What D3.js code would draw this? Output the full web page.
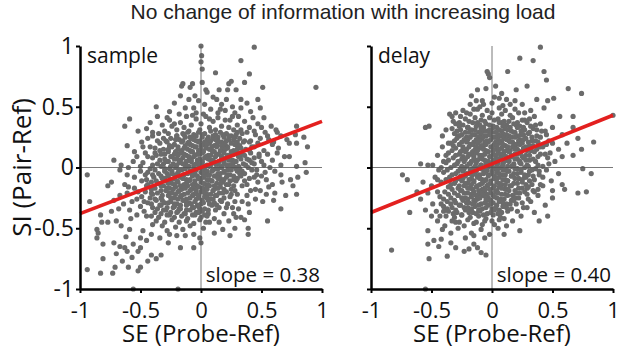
<!DOCTYPE html>
<html>
<head>
<meta charset="utf-8">
<script src="https://cdn.jsdelivr.net/npm/d3@7"></script>
<style>
  body { margin: 0; background: #fff; }
  text { font-family: "Open Sans", sans-serif; }
</style>
</head>
<body>
<svg id="chart" width="617" height="348"></svg>
<script>
// ---- data ----
const panelNames = ["sample", "delay"];
const slopeLabels = ["slope = 0.38", "slope = 0.40"];
const slopes = [0.38, 0.40];
const intercepts = [0.0, 0.03];
const tickValues = [-1, -0.5, 0, 0.5, 1];
const tickLabels = ["-1", "-0.5", "0", "0.5", "1"];
const titleText = "No change of information with increasing load";
const xLabel = "SE (Probe-Ref)";
const yLabel = "SI (Pair-Ref)";

// [SE, SI] pairs (outer points, then the dense core)
const samplePoints = [
  [0,1.0],[0.44,0.99],[0.005,0.92],[0,0.87],[0.01,0.81],[0.33,0.88],[0.12,0.78],[0.40,0.77],
  [-0.09,0.66],[-0.16,0.67],[0.04,0.64],[0.15,0.64],[0.22,0.64],[0.25,0.71],[0.23,0.69],[0.29,0.64],[0.36,0.70],[0.51,0.66],[0.95,0.66],[-0.17,0.59],[-0.05,0.59],[-0.15,0.69],[-0.07,0.69],[0.01,0.70],[0.05,0.62],
  [-0.37,0.50],[-0.06,0.49],[-0.13,0.49],[0.13,0.56],[0.21,0.56],[0.33,0.56],[0.47,0.56],[0.49,0.49],[0.33,0.49],[0.26,0.50],[0.17,0.52],[0.08,0.48],[-0.22,0.53],[-0.02,0.55],[0.03,0.52],[0.10,0.58],[0.38,0.53],[-0.10,0.56],[0.20,0.47],[0.41,0.46],[-0.26,0.46],[-0.04,0.45],[0.14,0.45],[0.28,0.45],
  [-0.59,0.40],[-0.63,0.34],[-0.45,0.32],[-0.42,0.37],[-0.28,0.41],[-0.26,0.39],[-0.24,0.34],[-0.17,0.37],[-0.12,0.42],[0.52,0.41],[0.43,0.41],[0.36,0.38],[0.58,0.34],[0.79,0.34],[0.23,0.33],[-0.20,0.31],[-0.08,0.35],[-0.04,0.40],[0.00,0.36],[0.04,0.42],[0.07,0.33],[0.10,0.38],[0.14,0.41],[0.17,0.34],[0.20,0.39],[0.26,0.42],[0.30,0.35],[0.33,0.31],[0.40,0.33],[0.47,0.36],[-0.14,0.33],[-0.32,0.35],[-0.01,0.31],[0.12,0.31],[0.27,0.31],[-0.10,0.30],[0.02,0.44],[0.62,0.31],
  [-0.52,0.30],[-0.49,0.21],[-0.35,0.28],[-0.31,0.24],[-0.15,0.28],[-0.20,0.26],[-0.61,0.18],[-0.48,0.17],[-0.42,0.17],[0.63,0.29],[0.66,0.26],[0.73,0.20],[0.79,0.20],[0.88,0.17],[0.44,0.17],[0.40,0.21],[0.29,0.27],[0.78,0.27],[0.71,0.23],[0.85,0.25],
  [-0.30,0.30],[-0.36,0.22],[-0.40,0.26],[-0.44,0.24],[-0.55,0.13],[-0.50,0.01],[-0.46,-0.06],[-0.52,-0.20],[-0.47,-0.28],[-0.58,-0.42],[-0.62,-0.57],[0.44,0.30],[0.50,0.33],[0.55,0.26],[0.60,0.21],[0.64,0.16],[0.54,-0.10],[0.49,-0.19],[0.45,-0.26],[0.38,-0.23],[0.31,-0.34],[0.27,-0.38],[0.19,-0.38],[0.16,0.48],[0.24,0.39],[0.31,0.42],[0.07,0.40],[-0.07,0.43],[-0.18,0.44],[-0.22,0.36],[-0.36,0.42],[-0.40,0.29],
  [-0.72,0.06],[-0.56,0.05],[-0.53,0.09],[-0.44,0.09],[-0.38,0.12],[0.69,0.09],[0.63,0.12],[0.59,0.06],[0.48,0.09],[0.52,0.02],[0.66,0.02],[0.73,0.09],[0.79,0.01],[0.86,0.04],[-0.66,0.02],
  [-0.94,-0.06],[-0.74,-0.12],[-0.77,-0.15],[-0.67,-0.02],[-0.61,-0.06],[-0.63,-0.14],[-0.55,-0.17],[-0.49,-0.11],[-0.45,-0.15],[-0.50,-0.03],[-0.39,-0.08],[0.87,-0.04],[0.80,-0.08],[0.74,-0.10],[0.66,-0.06],[0.67,-0.12],[0.76,-0.15],[0.56,-0.16],[0.59,-0.14],[0.50,-0.07],[0.44,-0.08],[0.61,-0.03],
  [-0.92,-0.28],[-0.61,-0.21],[-0.67,-0.23],[-0.41,-0.21],[-0.33,-0.25],[0.79,-0.22],[0.70,-0.23],[0.61,-0.21],[0.54,-0.22],[0.51,-0.28],[0.45,-0.18],[0.41,-0.19],[0.39,-0.30],[0.34,-0.28],[0.28,-0.28],[-0.72,-0.27],[-0.53,-0.26],[0.60,-0.27],
  [-0.83,-0.39],[-0.74,-0.36],[-0.68,-0.34],[-0.64,-0.30],[-0.59,-0.35],[-0.53,-0.39],[-0.45,-0.40],[-0.82,-0.45],[-0.77,-0.45],[-0.70,-0.44],[0.66,-0.34],[0.40,-0.37],[0.26,-0.33],[0.21,-0.33],[0.36,-0.43],[0.33,-0.41],[0.29,-0.41],[0.23,-0.44],[0.15,-0.45],[0.07,-0.45],[0.55,-0.44],
  [-0.86,-0.51],[-0.85,-0.54],[-0.86,-0.58],[-0.59,-0.51],[-0.48,-0.52],[-0.41,-0.55],[-0.26,-0.55],[-0.20,-0.56],[-0.13,-0.56],[-0.06,-0.55],[-0.50,-0.58],[-0.45,-0.60],[-0.34,-0.58],[-0.01,-0.58],[0.28,-0.50],[0.39,-0.50],[0.18,-0.51],[0.11,-0.54],[0.24,-0.56],[0.39,-0.55],[-0.32,-0.48],[-0.21,-0.49],[-0.09,-0.48],[0.02,-0.50],[-0.40,-0.47],[-0.15,-0.51],[-0.28,-0.52],[-0.66,-0.48],
  [-0.81,-0.63],[-0.72,-0.62],[-0.67,-0.65],[-0.63,-0.66],[-0.56,-0.63],[-0.50,-0.66],[-0.27,-0.62],[-0.17,-0.66],[-0.06,-0.66],[-0.70,-0.71],[-0.61,-0.69],[-0.52,-0.69],[-0.41,-0.72],[-0.33,-0.72],[-0.37,-0.75],[-0.57,-0.74],[0.00,-0.62],
  [-0.81,-0.75],[-0.65,-0.77],[-0.44,-0.77],[-0.71,-0.82],[-0.60,-0.82],[-0.50,-0.82],[-0.52,-0.85],[-0.94,-0.84],[-0.83,-0.87],[-0.73,-0.87],[-0.56,-1.0],[-0.19,-1.0],
  // core
  [-0.27,0.28],[-0.11,0.29],[-0.06,0.27],[-0.02,0.29],[0.03,0.28],[0.08,0.30],[0.12,0.27],[0.16,0.29],[0.21,0.28],[0.25,0.26],[0.34,0.28],[0.38,0.29],[0.45,0.27],[0.53,0.29],
  [-0.20,0.26],[-0.14,0.27],[-0.09,0.25],[-0.04,0.26],[0.01,0.27],[0.06,0.25],[0.10,0.26],[0.14,0.25],[0.18,0.27],[0.23,0.26],[0.28,0.25],[0.30,0.29],
  [-0.25,0.24],[-0.18,0.23],[-0.13,0.25],[-0.08,0.24],[-0.04,0.22],[0.01,0.25],[0.05,0.23],[0.10,0.24],[0.14,0.22],[0.19,0.25],[0.23,0.23],[0.32,0.24],[0.36,0.22],[0.49,0.24],[0.56,0.23],
  [-0.29,0.22],[-0.21,0.23],[-0.15,0.22],[-0.10,0.21],[-0.06,0.23],[-0.01,0.22],[0.03,0.21],[0.08,0.22],[0.12,0.23],[0.17,0.21],[0.21,0.22],[0.27,0.23],[0.30,0.21],[0.41,0.22],
  [-0.34,0.20],[-0.28,0.21],[-0.22,0.19],[-0.16,0.21],[-0.11,0.20],[-0.07,0.18],[-0.02,0.21],[0.02,0.19],[0.07,0.20],[0.11,0.18],[0.15,0.21],[0.20,0.19],[0.25,0.20],[0.30,0.18],[0.35,0.21],[0.47,0.20],[0.59,0.19],
  [-0.26,0.18],[-0.19,0.17],[-0.13,0.18],[-0.09,0.19],[-0.04,0.17],[0.00,0.18],[0.05,0.19],[0.09,0.17],[0.13,0.19],[0.17,0.18],[0.22,0.17],[0.28,0.19],[0.32,0.18],[0.42,0.17],
  [-0.38,0.16],[-0.31,0.15],[-0.24,0.17],[-0.19,0.15],[-0.14,0.16],[-0.09,0.14],[-0.05,0.17],[0.00,0.15],[0.04,0.16],[0.09,0.14],[0.13,0.17],[0.18,0.15],[0.22,0.16],[0.27,0.14],[0.33,0.16],[0.37,0.15],[0.52,0.14],
  [-0.34,0.14],[-0.27,0.15],[-0.21,0.13],[-0.16,0.14],[-0.11,0.15],[-0.07,0.13],[-0.02,0.14],[0.02,0.13],[0.07,0.15],[0.11,0.13],[0.16,0.14],[0.20,0.15],[0.25,0.13],[0.30,0.15],[0.40,0.14],
  [-0.46,0.12],[-0.33,0.11],[-0.27,0.13],[-0.22,0.11],[-0.17,0.12],[-0.12,0.10],[-0.08,0.13],[-0.03,0.11],[0.01,0.12],[0.06,0.10],[0.10,0.13],[0.15,0.11],[0.19,0.12],[0.24,0.10],[0.29,0.13],[0.34,0.11],[0.41,0.12],[0.55,0.11],
  [-0.37,0.10],[-0.30,0.11],[-0.24,0.09],[-0.19,0.10],[-0.14,0.11],[-0.10,0.09],[-0.05,0.10],[-0.01,0.11],[0.04,0.09],[0.08,0.10],[0.13,0.11],[0.17,0.09],[0.22,0.10],[0.27,0.11],[0.32,0.09],[0.36,0.10],[0.48,0.11],
  [-0.40,0.08],[-0.30,0.07],[-0.25,0.09],[-0.20,0.07],[-0.15,0.08],[-0.10,0.06],[-0.06,0.09],[-0.01,0.07],[0.03,0.08],[0.08,0.06],[0.12,0.09],[0.17,0.07],[0.21,0.08],[0.26,0.06],[0.31,0.09],[0.38,0.07],[0.44,0.08],
  [-0.34,0.06],[-0.27,0.05],[-0.22,0.07],[-0.17,0.06],[-0.12,0.05],[-0.08,0.07],[-0.03,0.06],[0.01,0.05],[0.06,0.07],[0.10,0.06],[0.15,0.05],[0.19,0.07],[0.23,0.06],[0.29,0.05],[0.33,0.07],[0.40,0.06],
  [-0.48,0.04],[-0.36,0.03],[-0.29,0.05],[-0.23,0.03],[-0.18,0.04],[-0.13,0.02],[-0.08,0.05],[-0.04,0.03],[0.01,0.04],[0.05,0.02],[0.10,0.05],[0.14,0.03],[0.19,0.04],[0.24,0.02],[0.28,0.05],[0.35,0.03],[0.42,0.04],[0.50,0.05],
  [-0.40,0.02],[-0.31,0.03],[-0.25,0.01],[-0.20,0.02],[-0.15,0.03],[-0.10,0.01],[-0.06,0.02],[-0.01,0.03],[0.03,0.01],[0.08,0.02],[0.12,0.03],[0.17,0.01],[0.21,0.02],[0.26,0.03],[0.31,0.01],[0.37,0.02],[0.44,0.03],
  [-0.60,0.00],[-0.42,-0.01],[-0.33,0.01],[-0.26,-0.01],[-0.21,0.00],[-0.16,-0.02],[-0.11,0.01],[-0.06,-0.01],[-0.02,0.00],[0.03,-0.02],[0.07,0.01],[0.12,-0.01],[0.17,0.00],[0.22,-0.02],[0.27,0.01],[0.32,-0.01],[0.39,0.00],[0.46,-0.02],[0.57,0.00],
  [-0.38,-0.02],[-0.30,-0.01],[-0.24,-0.03],[-0.18,-0.02],[-0.13,-0.01],[-0.09,-0.03],[-0.04,-0.02],[0.01,-0.01],[0.05,-0.03],[0.10,-0.02],[0.14,-0.01],[0.19,-0.03],[0.25,-0.02],[0.29,-0.01],[0.34,-0.03],[0.42,-0.02],
  [-0.44,-0.04],[-0.35,-0.05],[-0.30,-0.03],[-0.24,-0.05],[-0.19,-0.04],[-0.14,-0.06],[-0.09,-0.03],[-0.05,-0.05],[0.00,-0.04],[0.05,-0.06],[0.09,-0.03],[0.14,-0.05],[0.19,-0.04],[0.24,-0.06],[0.30,-0.03],[0.36,-0.05],[0.53,-0.04],
  [-0.40,-0.06],[-0.33,-0.07],[-0.28,-0.05],[-0.21,-0.06],[-0.16,-0.07],[-0.11,-0.05],[-0.07,-0.06],[-0.03,-0.07],[0.02,-0.05],[0.07,-0.06],[0.12,-0.07],[0.16,-0.05],[0.22,-0.06],[0.27,-0.07],[0.32,-0.05],[0.46,-0.06],
  [-0.55,-0.08],[-0.32,-0.09],[-0.27,-0.07],[-0.22,-0.09],[-0.17,-0.08],[-0.12,-0.10],[-0.07,-0.07],[-0.02,-0.09],[0.02,-0.08],[0.07,-0.10],[0.11,-0.07],[0.16,-0.09],[0.21,-0.08],[0.27,-0.10],[0.33,-0.07],[0.40,-0.09],
  [-0.45,-0.10],[-0.37,-0.11],[-0.30,-0.09],[-0.25,-0.10],[-0.20,-0.11],[-0.15,-0.09],[-0.09,-0.10],[-0.05,-0.11],[0.00,-0.09],[0.05,-0.10],[0.09,-0.11],[0.14,-0.09],[0.19,-0.10],[0.24,-0.11],[0.30,-0.09],[0.36,-0.11],
  [-0.41,-0.12],[-0.35,-0.13],[-0.29,-0.11],[-0.24,-0.13],[-0.19,-0.12],[-0.14,-0.14],[-0.10,-0.11],[-0.05,-0.13],[0.00,-0.12],[0.04,-0.14],[0.09,-0.11],[0.13,-0.13],[0.18,-0.12],[0.23,-0.14],[0.29,-0.11],[0.47,-0.12],
  [-0.44,-0.14],[-0.33,-0.15],[-0.27,-0.13],[-0.22,-0.14],[-0.17,-0.15],[-0.12,-0.13],[-0.07,-0.14],[-0.03,-0.15],[0.02,-0.13],[0.06,-0.14],[0.11,-0.15],[0.16,-0.13],[0.21,-0.14],[0.27,-0.15],[0.38,-0.14],
  [-0.60,-0.16],[-0.38,-0.17],[-0.31,-0.15],[-0.26,-0.17],[-0.21,-0.16],[-0.16,-0.18],[-0.11,-0.15],[-0.06,-0.17],[-0.02,-0.16],[0.03,-0.18],[0.07,-0.15],[0.12,-0.17],[0.16,-0.16],[0.25,-0.18],[0.34,-0.15],
  [-0.41,-0.18],[-0.33,-0.19],[-0.28,-0.17],[-0.23,-0.18],[-0.18,-0.19],[-0.13,-0.17],[-0.08,-0.18],[-0.04,-0.19],[0.01,-0.17],[0.05,-0.18],[0.10,-0.19],[0.14,-0.17],[0.19,-0.18],[0.28,-0.19],
  [-0.46,-0.20],[-0.36,-0.21],[-0.29,-0.19],[-0.24,-0.21],[-0.19,-0.20],[-0.14,-0.22],[-0.09,-0.19],[-0.04,-0.21],[0.00,-0.20],[0.05,-0.22],[0.10,-0.19],[0.15,-0.21],[0.21,-0.20],[0.30,-0.22],
  [-0.40,-0.22],[-0.32,-0.23],[-0.26,-0.21],[-0.21,-0.22],[-0.16,-0.23],[-0.11,-0.21],[-0.06,-0.22],[-0.02,-0.23],[0.03,-0.21],[0.08,-0.22],[0.12,-0.23],[0.18,-0.21],[0.25,-0.22],
  [-0.49,-0.24],[-0.42,-0.25],[-0.27,-0.23],[-0.22,-0.25],[-0.17,-0.24],[-0.12,-0.26],[-0.07,-0.23],[-0.02,-0.25],[0.03,-0.24],[0.08,-0.26],[0.13,-0.23],[0.19,-0.25],[0.24,-0.24],
  [-0.38,-0.26],[-0.32,-0.27],[-0.25,-0.25],[-0.19,-0.26],[-0.14,-0.27],[-0.09,-0.25],[-0.04,-0.26],[0.01,-0.27],[0.05,-0.25],[0.10,-0.26],[0.16,-0.27],
  [-0.57,-0.28],[-0.44,-0.29],[-0.37,-0.27],[-0.30,-0.29],[-0.25,-0.28],[-0.20,-0.30],[-0.15,-0.27],[-0.10,-0.29],[-0.05,-0.28],[0.00,-0.30],[0.06,-0.27],[0.11,-0.29],[0.17,-0.28],[0.22,-0.30],
  [-0.41,-0.30],[-0.33,-0.31],[-0.27,-0.29],[-0.22,-0.30],[-0.17,-0.31],[-0.12,-0.29],[-0.08,-0.30],[-0.03,-0.31],[0.02,-0.29],[0.07,-0.30],[0.13,-0.31],
  [-0.50,-0.32],[-0.40,-0.33],[-0.34,-0.31],[-0.28,-0.33],[-0.22,-0.32],[-0.17,-0.34],[-0.12,-0.31],[-0.07,-0.33],[-0.02,-0.32],[0.03,-0.34],[0.09,-0.31],[0.15,-0.33],
  [-0.36,-0.34],[-0.29,-0.35],[-0.23,-0.33],[-0.18,-0.34],[-0.12,-0.35],[-0.06,-0.33],[-0.01,-0.34],[0.06,-0.35],
  [-0.47,-0.36],[-0.38,-0.37],[-0.31,-0.35],[-0.25,-0.37],[-0.19,-0.36],[-0.14,-0.38],[-0.09,-0.35],[-0.04,-0.37],[0.01,-0.36],[0.06,-0.38],[0.12,-0.35],
  [-0.33,-0.38],[-0.26,-0.39],[-0.20,-0.37],[-0.13,-0.38],[-0.07,-0.39],[-0.02,-0.37],[0.03,-0.39],
  [-0.41,-0.40],[-0.35,-0.41],[-0.28,-0.39],[-0.22,-0.41],[-0.16,-0.40],[-0.11,-0.42],[-0.05,-0.39],[0.00,-0.41],[0.05,-0.40],[0.11,-0.42],
  [-0.37,-0.44],[-0.30,-0.45],[-0.24,-0.43],[-0.18,-0.45],[-0.12,-0.44],[-0.06,-0.46],[-0.01,-0.43],[0.04,-0.45]
];

// [SE, SI] pairs (outer points, then the dense core)
const delayPoints = [
  [0.40,0.99],[0.23,0.90],[0.34,0.88],[0.13,0.79],[0.43,0.79],[0.45,0.72],[0.63,0.65],[0.74,0.61],[0.51,0.57],[0.46,0.55],[0.37,0.56],[0.29,0.67],[0.20,0.64],[0.08,0.61],[0.03,0.67],[-0.04,0.79],[-0.02,0.74],[-0.05,0.65],[-0.03,0.77],[0.43,0.49],[0.56,0.42],[0.67,0.42],[0.67,0.33],[0.58,0.27],[0.71,0.24],[0.84,0.21],[0.74,0.15],[0.67,0.10],[0.58,0.09],[0.50,0.20],[1.0,0.43],[-0.55,0.33],[-0.52,0.34],[-0.59,0.03],[-0.53,0.02],[-0.49,0.02],[-0.41,0.17],[-0.35,0.44],[-0.33,0.42],[-0.27,0.37],[-0.38,0.31],[-0.41,0.26],[-0.28,0.26],[-0.17,0.59],[-0.12,0.64],[-0.08,0.55],[-0.15,0.48],[-0.21,0.45],[-0.20,0.33],[0.12,0.56],[0.25,0.52],[0.32,0.47],[0.06,0.57],[-0.10,0.50],[0.50,0.33],[0.45,0.27],[0.55,0.15],[0.62,0.20],[0.52,0.05],[0.48,0.12],[-0.45,0.10],[-0.40,0.05],[-0.44,-0.02],[-0.36,0.20],[-0.32,0.38],
  [-0.74,-0.06],[-0.70,-0.10],[-0.57,-0.12],[-0.83,-0.68],[-0.68,-0.37],[-0.59,-0.26],[-0.53,-0.21],[-0.49,-0.30],[-0.55,-0.35],[-0.46,-0.36],[-0.45,-0.44],[-0.41,-0.51],[-0.53,-0.52],[-0.48,-0.60],[-0.53,-0.63],[-0.44,-0.65],[-0.42,-0.59],[-0.34,-0.54],[-0.34,-0.62],[-0.30,-0.66],[-0.37,-0.73],[-0.52,-0.75],[-0.23,-0.69],[-0.19,-0.67],[-0.15,-0.63],[-0.12,-0.66],[-0.05,-0.72],[-0.09,-0.70],[-0.15,-0.56],[-0.17,-0.54],[-0.09,-0.51],[-0.06,-0.58],[0.05,-0.50],[0.02,-0.47],[0.12,-0.48],[0.06,-0.43],[0.23,-0.52],[0.24,-0.40],[0.13,-0.36],[0.21,-0.36],[0.29,-0.33],[0.39,-0.44],[0.46,-0.40],[0.35,-0.37],[0.32,-0.28],[0.29,-0.22],[0.38,-0.23],[0.50,-0.25],[0.50,-0.19],[0.60,-0.18],[0.58,-0.14],[0.71,-0.21],[0.78,-0.20],[0.82,-0.05],[0.49,-0.11],[0.39,-0.06],[0.29,-0.17],[0.27,-0.08],[0.75,-0.01],[-0.55,-1.0],[-0.50,-0.40],[-0.39,-0.48],[-0.28,-0.50],[-0.22,-0.58],[-0.02,-0.55],[0.10,-0.55],[0.17,-0.44],[0.44,-0.31],[0.42,-0.15],[0.55,-0.05],[-0.50,-0.15],[-0.47,-0.08],[-0.62,-0.20],
  [-0.26,0.42],[-0.30,0.45],[-0.24,0.47],[-0.18,0.52],[-0.13,0.55],[0.02,0.58],[0.19,0.55],[0.27,0.45],[0.35,0.42],[0.40,0.36],[0.44,0.30],[0.47,0.22],[0.46,0.08],[0.45,-0.02],[0.42,-0.08],[0.40,-0.14],[0.35,-0.20],[0.30,-0.26],[0.26,-0.33],[0.20,-0.30],[-0.45,-0.20],[-0.42,-0.30],[-0.40,-0.36],[-0.43,-0.40],[-0.30,-0.45],[-0.23,-0.48],[-0.15,-0.46],[-0.08,-0.47],[0.00,-0.44],[0.10,-0.42],[-0.38,0.10],[-0.42,0.00],[-0.45,-0.10],
  // core
  [-0.07,0.52],[0.00,0.53],[0.09,0.51],[0.15,0.52],
  [-0.12,0.48],[-0.04,0.47],[0.06,0.49],[0.11,0.47],[0.19,0.48],
  [-0.18,0.44],[-0.08,0.43],[0.00,0.45],[0.08,0.44],[0.15,0.43],[0.22,0.45],
  [-0.22,0.40],[-0.14,0.41],[-0.09,0.39],[-0.02,0.41],[0.05,0.40],[0.10,0.38],[0.17,0.41],[0.25,0.39],[0.31,0.40],
  [-0.19,0.38],[-0.12,0.37],[-0.06,0.38],[0.02,0.39],[0.08,0.37],[0.14,0.38],[0.21,0.37],[0.27,0.39],
  [-0.30,0.36],[-0.24,0.35],[-0.16,0.37],[-0.10,0.35],[-0.05,0.36],[0.01,0.34],[0.06,0.37],[0.12,0.35],[0.18,0.36],[0.23,0.34],[0.29,0.37],[0.36,0.35],
  [-0.27,0.34],[-0.20,0.33],[-0.13,0.34],[-0.07,0.33],[-0.02,0.35],[0.04,0.33],[0.09,0.34],[0.15,0.33],[0.20,0.35],[0.26,0.33],[0.32,0.34],
  [-0.33,0.32],[-0.26,0.31],[-0.20,0.33],[-0.14,0.31],[-0.09,0.32],[-0.04,0.30],[0.01,0.33],[0.06,0.31],[0.11,0.32],[0.16,0.30],[0.21,0.33],[0.27,0.31],[0.34,0.32],[0.41,0.30],
  [-0.29,0.30],[-0.22,0.29],[-0.17,0.31],[-0.11,0.29],[-0.07,0.30],[-0.02,0.31],[0.03,0.29],[0.08,0.30],[0.13,0.31],[0.18,0.29],[0.24,0.30],[0.31,0.29],[0.37,0.31],
  [-0.31,0.28],[-0.25,0.27],[-0.19,0.29],[-0.14,0.27],[-0.09,0.28],[-0.05,0.26],[0.00,0.29],[0.05,0.27],[0.09,0.28],[0.14,0.26],[0.19,0.29],[0.24,0.27],[0.30,0.28],[0.37,0.26],
  [-0.27,0.26],[-0.21,0.25],[-0.16,0.27],[-0.11,0.25],[-0.06,0.26],[-0.02,0.27],[0.03,0.25],[0.07,0.26],[0.12,0.27],[0.16,0.25],[0.21,0.26],[0.26,0.27],[0.33,0.25],
  [-0.29,0.24],[-0.23,0.23],[-0.18,0.25],[-0.13,0.23],[-0.08,0.24],[-0.04,0.22],[0.01,0.25],[0.05,0.23],[0.10,0.24],[0.14,0.22],[0.19,0.25],[0.23,0.23],[0.28,0.24],[0.33,0.22],[0.40,0.25],
  [-0.31,0.22],[-0.25,0.21],[-0.20,0.23],[-0.15,0.21],[-0.10,0.22],[-0.06,0.21],[-0.01,0.23],[0.03,0.21],[0.08,0.22],[0.12,0.23],[0.17,0.21],[0.22,0.22],[0.26,0.23],[0.30,0.21],[0.36,0.22],
  [-0.34,0.20],[-0.27,0.19],[-0.21,0.21],[-0.16,0.19],[-0.12,0.20],[-0.07,0.18],[-0.03,0.21],[0.02,0.19],[0.06,0.20],[0.11,0.18],[0.15,0.21],[0.20,0.19],[0.25,0.20],[0.31,0.18],[0.38,0.21],[0.45,0.19],
  [-0.32,0.18],[-0.24,0.17],[-0.18,0.19],[-0.13,0.17],[-0.09,0.18],[-0.05,0.19],[0.00,0.17],[0.04,0.18],[0.09,0.19],[0.13,0.17],[0.18,0.18],[0.23,0.19],[0.28,0.17],[0.34,0.18],[0.42,0.17],
  [-0.30,0.16],[-0.24,0.15],[-0.19,0.17],[-0.14,0.15],[-0.10,0.16],[-0.05,0.14],[-0.01,0.17],[0.03,0.15],[0.08,0.16],[0.12,0.14],[0.17,0.17],[0.21,0.15],[0.26,0.16],[0.32,0.14],[0.40,0.17],
  [-0.33,0.14],[-0.26,0.13],[-0.21,0.15],[-0.16,0.13],[-0.12,0.14],[-0.07,0.15],[-0.03,0.13],[0.01,0.14],[0.06,0.15],[0.10,0.13],[0.15,0.14],[0.19,0.15],[0.24,0.13],[0.29,0.14],[0.37,0.15],
  [-0.36,0.12],[-0.27,0.11],[-0.22,0.13],[-0.17,0.11],[-0.13,0.12],[-0.08,0.10],[-0.04,0.13],[0.01,0.11],[0.05,0.12],[0.10,0.10],[0.14,0.13],[0.19,0.11],[0.23,0.12],[0.28,0.10],[0.35,0.13],[0.44,0.11],
  [-0.30,0.10],[-0.24,0.09],[-0.19,0.11],[-0.15,0.09],[-0.10,0.10],[-0.06,0.11],[-0.02,0.09],[0.03,0.10],[0.07,0.11],[0.12,0.09],[0.16,0.10],[0.21,0.11],[0.25,0.09],[0.31,0.10],[0.40,0.11],
  [-0.32,0.08],[-0.25,0.07],[-0.20,0.09],[-0.15,0.07],[-0.10,0.08],[-0.06,0.06],[-0.01,0.09],[0.03,0.07],[0.07,0.08],[0.12,0.06],[0.16,0.09],[0.21,0.07],[0.26,0.08],[0.31,0.06],[0.38,0.09],
  [-0.36,0.06],[-0.28,0.05],[-0.22,0.07],[-0.17,0.05],[-0.12,0.06],[-0.08,0.07],[-0.03,0.05],[0.01,0.06],[0.05,0.07],[0.10,0.05],[0.14,0.06],[0.19,0.07],[0.23,0.05],[0.28,0.06],[0.34,0.07],
  [-0.38,0.04],[-0.29,0.03],[-0.23,0.05],[-0.18,0.03],[-0.13,0.04],[-0.09,0.02],[-0.04,0.05],[0.00,0.03],[0.05,0.04],[0.09,0.02],[0.14,0.05],[0.18,0.03],[0.23,0.04],[0.29,0.02],[0.36,0.05],[0.47,0.03],
  [-0.31,0.02],[-0.25,0.01],[-0.19,0.03],[-0.14,0.01],[-0.09,0.02],[-0.05,0.03],[0.00,0.01],[0.04,0.02],[0.09,0.03],[0.13,0.01],[0.18,0.02],[0.24,0.03],[0.30,0.01],[0.38,0.02],
  [-0.34,0.00],[-0.26,-0.01],[-0.21,0.01],[-0.16,-0.01],[-0.11,0.00],[-0.07,-0.02],[-0.02,0.01],[0.02,-0.01],[0.07,0.00],[0.11,-0.02],[0.16,0.01],[0.21,-0.01],[0.27,0.00],[0.33,-0.02],[0.42,0.01],
  [-0.37,-0.02],[-0.28,-0.03],[-0.23,-0.01],[-0.18,-0.02],[-0.13,-0.03],[-0.09,-0.01],[-0.04,-0.02],[0.00,-0.03],[0.05,-0.01],[0.09,-0.02],[0.14,-0.03],[0.19,-0.01],[0.24,-0.02],[0.31,-0.03],[0.36,-0.01],
  [-0.40,-0.04],[-0.30,-0.05],[-0.24,-0.03],[-0.19,-0.05],[-0.14,-0.04],[-0.10,-0.06],[-0.05,-0.03],[0.00,-0.05],[0.04,-0.04],[0.09,-0.06],[0.13,-0.03],[0.18,-0.05],[0.24,-0.04],[0.30,-0.06],[0.39,-0.03],
  [-0.33,-0.06],[-0.26,-0.07],[-0.21,-0.05],[-0.16,-0.06],[-0.12,-0.07],[-0.07,-0.05],[-0.03,-0.06],[0.02,-0.07],[0.06,-0.05],[0.11,-0.06],[0.16,-0.07],[0.21,-0.05],[0.27,-0.06],[0.34,-0.07],
  [-0.35,-0.08],[-0.27,-0.09],[-0.22,-0.07],[-0.17,-0.09],[-0.12,-0.08],[-0.08,-0.10],[-0.03,-0.07],[0.02,-0.09],[0.06,-0.08],[0.11,-0.10],[0.16,-0.07],[0.22,-0.09],[0.28,-0.08],[0.35,-0.10],
  [-0.38,-0.10],[-0.30,-0.11],[-0.24,-0.09],[-0.19,-0.10],[-0.15,-0.11],[-0.10,-0.09],[-0.05,-0.10],[-0.01,-0.11],[0.04,-0.09],[0.09,-0.10],[0.13,-0.11],[0.19,-0.09],[0.25,-0.10],[0.31,-0.11],
  [-0.42,-0.12],[-0.31,-0.13],[-0.25,-0.11],[-0.20,-0.13],[-0.15,-0.12],[-0.10,-0.14],[-0.06,-0.11],[-0.01,-0.13],[0.04,-0.12],[0.08,-0.14],[0.13,-0.11],[0.18,-0.13],[0.25,-0.12],[0.33,-0.14],
  [-0.34,-0.14],[-0.27,-0.15],[-0.22,-0.13],[-0.17,-0.14],[-0.12,-0.15],[-0.08,-0.13],[-0.03,-0.14],[0.02,-0.15],[0.06,-0.13],[0.11,-0.14],[0.15,-0.15],[0.21,-0.13],[0.28,-0.14],
  [-0.36,-0.16],[-0.28,-0.17],[-0.23,-0.15],[-0.18,-0.17],[-0.13,-0.16],[-0.08,-0.18],[-0.04,-0.15],[0.01,-0.17],[0.06,-0.16],[0.11,-0.18],[0.16,-0.15],[0.22,-0.17],[0.30,-0.16],[0.38,-0.18],
  [-0.33,-0.18],[-0.26,-0.19],[-0.20,-0.17],[-0.16,-0.18],[-0.11,-0.19],[-0.06,-0.17],[-0.02,-0.18],[0.04,-0.19],[0.08,-0.17],[0.13,-0.18],[0.19,-0.19],[0.25,-0.17],[0.34,-0.19],
  [-0.39,-0.20],[-0.31,-0.21],[-0.25,-0.19],[-0.20,-0.21],[-0.15,-0.20],[-0.11,-0.22],[-0.06,-0.19],[-0.01,-0.21],[0.03,-0.20],[0.08,-0.22],[0.14,-0.19],[0.20,-0.21],[0.27,-0.20],
  [-0.36,-0.22],[-0.28,-0.23],[-0.23,-0.21],[-0.17,-0.22],[-0.13,-0.23],[-0.08,-0.21],[-0.04,-0.22],[0.01,-0.23],[0.05,-0.21],[0.11,-0.22],[0.17,-0.23],[0.23,-0.21],
  [-0.43,-0.24],[-0.34,-0.25],[-0.28,-0.23],[-0.22,-0.25],[-0.17,-0.24],[-0.12,-0.26],[-0.07,-0.23],[-0.03,-0.25],[0.02,-0.24],[0.07,-0.26],[0.13,-0.23],[0.19,-0.25],
  [-0.40,-0.26],[-0.31,-0.27],[-0.25,-0.25],[-0.20,-0.26],[-0.15,-0.27],[-0.10,-0.25],[-0.05,-0.26],[-0.01,-0.27],[0.04,-0.25],[0.10,-0.26],[0.16,-0.27],[0.22,-0.25],
  [-0.37,-0.28],[-0.30,-0.29],[-0.24,-0.27],[-0.19,-0.29],[-0.14,-0.28],[-0.09,-0.30],[-0.04,-0.27],[0.01,-0.29],[0.06,-0.28],[0.12,-0.30],[0.18,-0.27],[0.25,-0.29],
  [-0.34,-0.30],[-0.27,-0.31],[-0.21,-0.29],[-0.16,-0.30],[-0.11,-0.31],[-0.06,-0.29],[-0.01,-0.30],[0.04,-0.31],[0.09,-0.29],[0.15,-0.30],
  [-0.40,-0.32],[-0.33,-0.33],[-0.26,-0.31],[-0.20,-0.33],[-0.14,-0.32],[-0.08,-0.34],[-0.03,-0.31],[0.03,-0.33],[0.09,-0.32],[0.16,-0.34],
  [-0.37,-0.34],[-0.30,-0.35],[-0.23,-0.33],[-0.17,-0.34],[-0.11,-0.35],[-0.05,-0.33],[0.00,-0.34],[0.06,-0.35],[0.12,-0.33],
  [-0.36,-0.36],[-0.29,-0.37],[-0.22,-0.35],[-0.16,-0.37],[-0.10,-0.36],[-0.04,-0.38],[0.02,-0.35],[0.08,-0.37],
  [-0.32,-0.38],[-0.25,-0.39],[-0.19,-0.37],[-0.13,-0.38],[-0.07,-0.39],[-0.01,-0.37],[0.05,-0.38],
  [-0.38,-0.40],[-0.31,-0.41],[-0.25,-0.39],[-0.18,-0.41],[-0.11,-0.40],[-0.05,-0.42],[0.01,-0.39],[0.07,-0.41],
  [-0.33,-0.44],[-0.27,-0.45],[-0.20,-0.43],[-0.13,-0.45],[-0.06,-0.44]
];

const panelPoints = [samplePoints, delayPoints];

// ---- layout ----
const PANEL_LEFT = [80, 371];
const PANEL_WIDTH = 242;
const PLOT_TOP = 46;
const PLOT_BOTTOM = 289;
const DOT_COLOR = "#6b6b6b";
const FIT_COLOR = "#e3201f";

const svg = d3.select("#chart");

svg.append("text")
  .attr("x", 343).attr("y", 19)
  .attr("text-anchor", "middle")
  .style("font-family", "'Liberation Sans', Arial, sans-serif")
  .style("font-size", "21px")
  .attr("fill", "#222")
  .text(titleText);

svg.append("text")
  .attr("transform", `translate(31,${(PLOT_TOP + PLOT_BOTTOM) / 2}) rotate(-90)`)
  .attr("text-anchor", "middle")
  .style("font-size", "26px")
  .attr("fill", "#111")
  .text(yLabel);

panelNames.forEach((name, i) => {
  const x = d3.scaleLinear().domain([-1, 1]).range([PANEL_LEFT[i], PANEL_LEFT[i] + PANEL_WIDTH]);
  const y = d3.scaleLinear().domain([-1, 1]).range([PLOT_BOTTOM, PLOT_TOP]);
  const g = svg.append("g");

  g.append("g").selectAll("circle")
    .data(panelPoints[i]).join("circle")
    .attr("cx", d => x(d[0]))
    .attr("cy", d => y(d[1]))
    .attr("r", 2.6)
    .attr("fill", DOT_COLOR);

  // zero reference lines
  g.append("line")
    .attr("x1", x(0)).attr("x2", x(0)).attr("y1", y(-1)).attr("y2", y(1))
    .attr("stroke", "#555").attr("stroke-width", 0.8);
  g.append("line")
    .attr("x1", x(-1)).attr("x2", x(1)).attr("y1", y(0)).attr("y2", y(0))
    .attr("stroke", "#555").attr("stroke-width", 0.8);

  // regression line
  const fit = d3.line().x(d => x(d)).y(d => y(intercepts[i] + slopes[i] * d));
  g.append("path").datum([-1, 1])
    .attr("d", fit)
    .attr("fill", "none")
    .attr("stroke", FIT_COLOR)
    .attr("stroke-width", 3.6);

  g.append("g").attr("transform", `translate(${x(-1)},0)`)
    .call(d3.axisLeft(y).tickValues(tickValues).tickSize(4).tickSizeOuter(0).tickPadding(2)
      .tickFormat((d, k) => i === 0 ? tickLabels[k] : ""))
    .call(a => a.select(".domain").attr("stroke", "#000").attr("stroke-width", 2.5))
    .call(a => a.selectAll(".tick line").attr("stroke", "#000").attr("stroke-width", 2))
    .call(a => a.selectAll("text").style("font-size", "23px").style("font-family", "'Open Sans', sans-serif").attr("fill", "#111"));

  g.append("g").attr("transform", `translate(0,${y(-1)})`)
    .call(d3.axisBottom(x).tickValues(tickValues).tickSize(4).tickSizeOuter(0).tickPadding(9)
      .tickFormat((d, k) => tickLabels[k]))
    .call(a => a.select(".domain").attr("stroke", "#000").attr("stroke-width", 2.5))
    .call(a => a.selectAll(".tick line").attr("stroke", "#000").attr("stroke-width", 2))
    .call(a => a.selectAll("text").style("font-size", "22px").style("font-family", "'Open Sans', sans-serif").attr("fill", "#111"));

  g.append("text")
    .attr("x", x(-1) + 7).attr("y", 63)
    .style("font-size", "21px")
    .attr("fill", "#111")
    .text(name);

  g.append("text")
    .attr("x", x(1) - 2).attr("y", 282)
    .attr("text-anchor", "end")
    .style("font-size", "20.5px")
    .attr("fill", "#111")
    .text(slopeLabels[i]);

  g.append("text")
    .attr("x", x(0)).attr("y", 342)
    .attr("text-anchor", "middle")
    .style("font-size", "24px")
    .attr("fill", "#111")
    .text(xLabel);
});
</script>
</body>
</html>
